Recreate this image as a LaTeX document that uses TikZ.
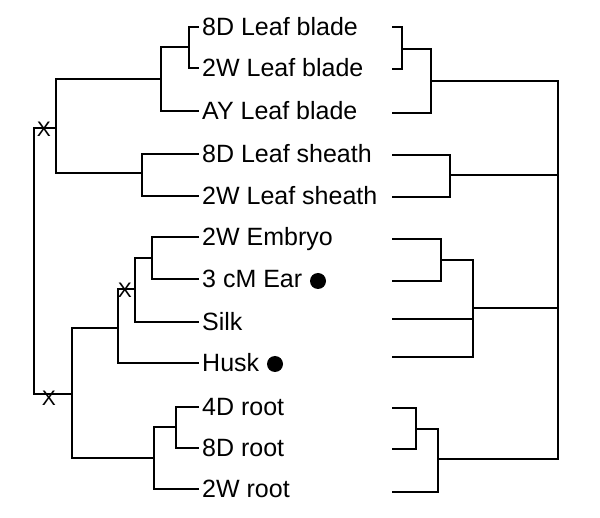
\documentclass[tikz,border=0pt]{standalone}
\usepackage{fontspec}
\setmainfont{Liberation Sans}
\begin{document}
\begin{tikzpicture}[x=1pt,y=-1pt,
  br/.style={draw=black,line width=1.4pt},
  leaf/.style={anchor=west,inner ysep=0pt,inner xsep=3pt,text height=17.9pt,text depth=0pt,font=\fontsize{25}{30}\selectfont},
  xmark/.style={inner sep=0pt,font=\fontsize{21}{24}\selectfont},
  dot/.style={circle,fill=black,inner sep=0pt,minimum size=16pt}]
\useasboundingbox (0,0) rectangle (600,518);
% leaves
\node[leaf] (L1) at (199,27) {8D Leaf blade};
\node[leaf] (L2) at (199,68) {2W Leaf blade};
\node[leaf] (L3) at (199,111) {AY Leaf blade};
\node[leaf] (L4) at (199,154) {8D Leaf sheath};
\node[leaf] (L5) at (199,196) {2W Leaf sheath};
\node[leaf] (L6) at (199,237) {2W Embryo};
\node[leaf] (L7) at (199,279) {3 cM Ear};
\node[leaf] (L8) at (199,322) {Silk};
\node[leaf] (L9) at (199,363) {Husk};
\node[leaf] (L10) at (199,407) {4D root};
\node[leaf] (L11) at (199,448) {8D root};
\node[leaf] (L12) at (199,489) {2W root};
\node[dot] (b1) at (318,281) {};
\node[dot] (b2) at (275,364) {};
% left tree internal nodes
\coordinate (a) at (189,47);
\coordinate (b) at (161,79);
\coordinate (c) at (142,173);
\coordinate (d) at (56,128);
\coordinate (e) at (152,258);
\coordinate (f) at (135,289);
\coordinate (g) at (118,328);
\coordinate (h) at (176,427);
\coordinate (i) at (154,458);
\coordinate (j) at (72,394);
\coordinate (root) at (34,261);
\draw[br] (L1.west) -| (a) |- (L2.west);
\draw[br] (a) -| (b) |- (L3.west);
\draw[br] (L4.west) -| (c) |- (L5.west);
\draw[br] (b) -| (d) |- (c);
\draw[br] (L6.west) -| (e) |- (L7.west);
\draw[br] (e) -| (f) |- (L8.west);
\draw[br] (f) -| (g) |- (L9.west);
\draw[br] (L10.west) -| (h) |- (L11.west);
\draw[br] (h) -| (i) |- (L12.west);
\draw[br] (g) -| (j) |- (i);
\draw[br] (d) -| (root) |- (j);
\node[xmark] (x1) at (44,129) {X};
\node[xmark] (x2) at (125,290) {X};
\node[xmark] (x3) at (49,398) {X};
% right tree
\coordinate (r1) at (392,27);
\coordinate (r2) at (392,69);
\coordinate (r3) at (392,113);
\coordinate (r4) at (392,155);
\coordinate (r5) at (392,197);
\coordinate (r6) at (392,239);
\coordinate (r7) at (392,281);
\coordinate (r8) at (392,319);
\coordinate (r9) at (392,357);
\coordinate (r10) at (392,408);
\coordinate (r11) at (392,449);
\coordinate (r12) at (392,492);
\coordinate (A) at (402,49);
\coordinate (B) at (431,81);
\coordinate (C) at (450,175);
\coordinate (D) at (441,260);
\coordinate (E) at (473,308);
\coordinate (F) at (416,429);
\coordinate (G) at (438,459);
\coordinate (R) at (558,270);
\draw[br] (r1) -| (A) |- (r2);
\draw[br] (A) -| (B) |- (r3);
\draw[br] (r4) -| (C) |- (r5);
\draw[br] (r6) -| (D) |- (r7);
\draw[br] (D) -| (E) |- (r9);
\draw[br] (r8) -- (r8 -| E);
\draw[br] (r10) -| (F) |- (r11);
\draw[br] (F) -| (G) |- (r12);
\draw[br] (B) -| (R) |- (G);
\draw[br] (C) -- (C -| R);
\draw[br] (E) -- (E -| R);
\end{tikzpicture}
\end{document}
